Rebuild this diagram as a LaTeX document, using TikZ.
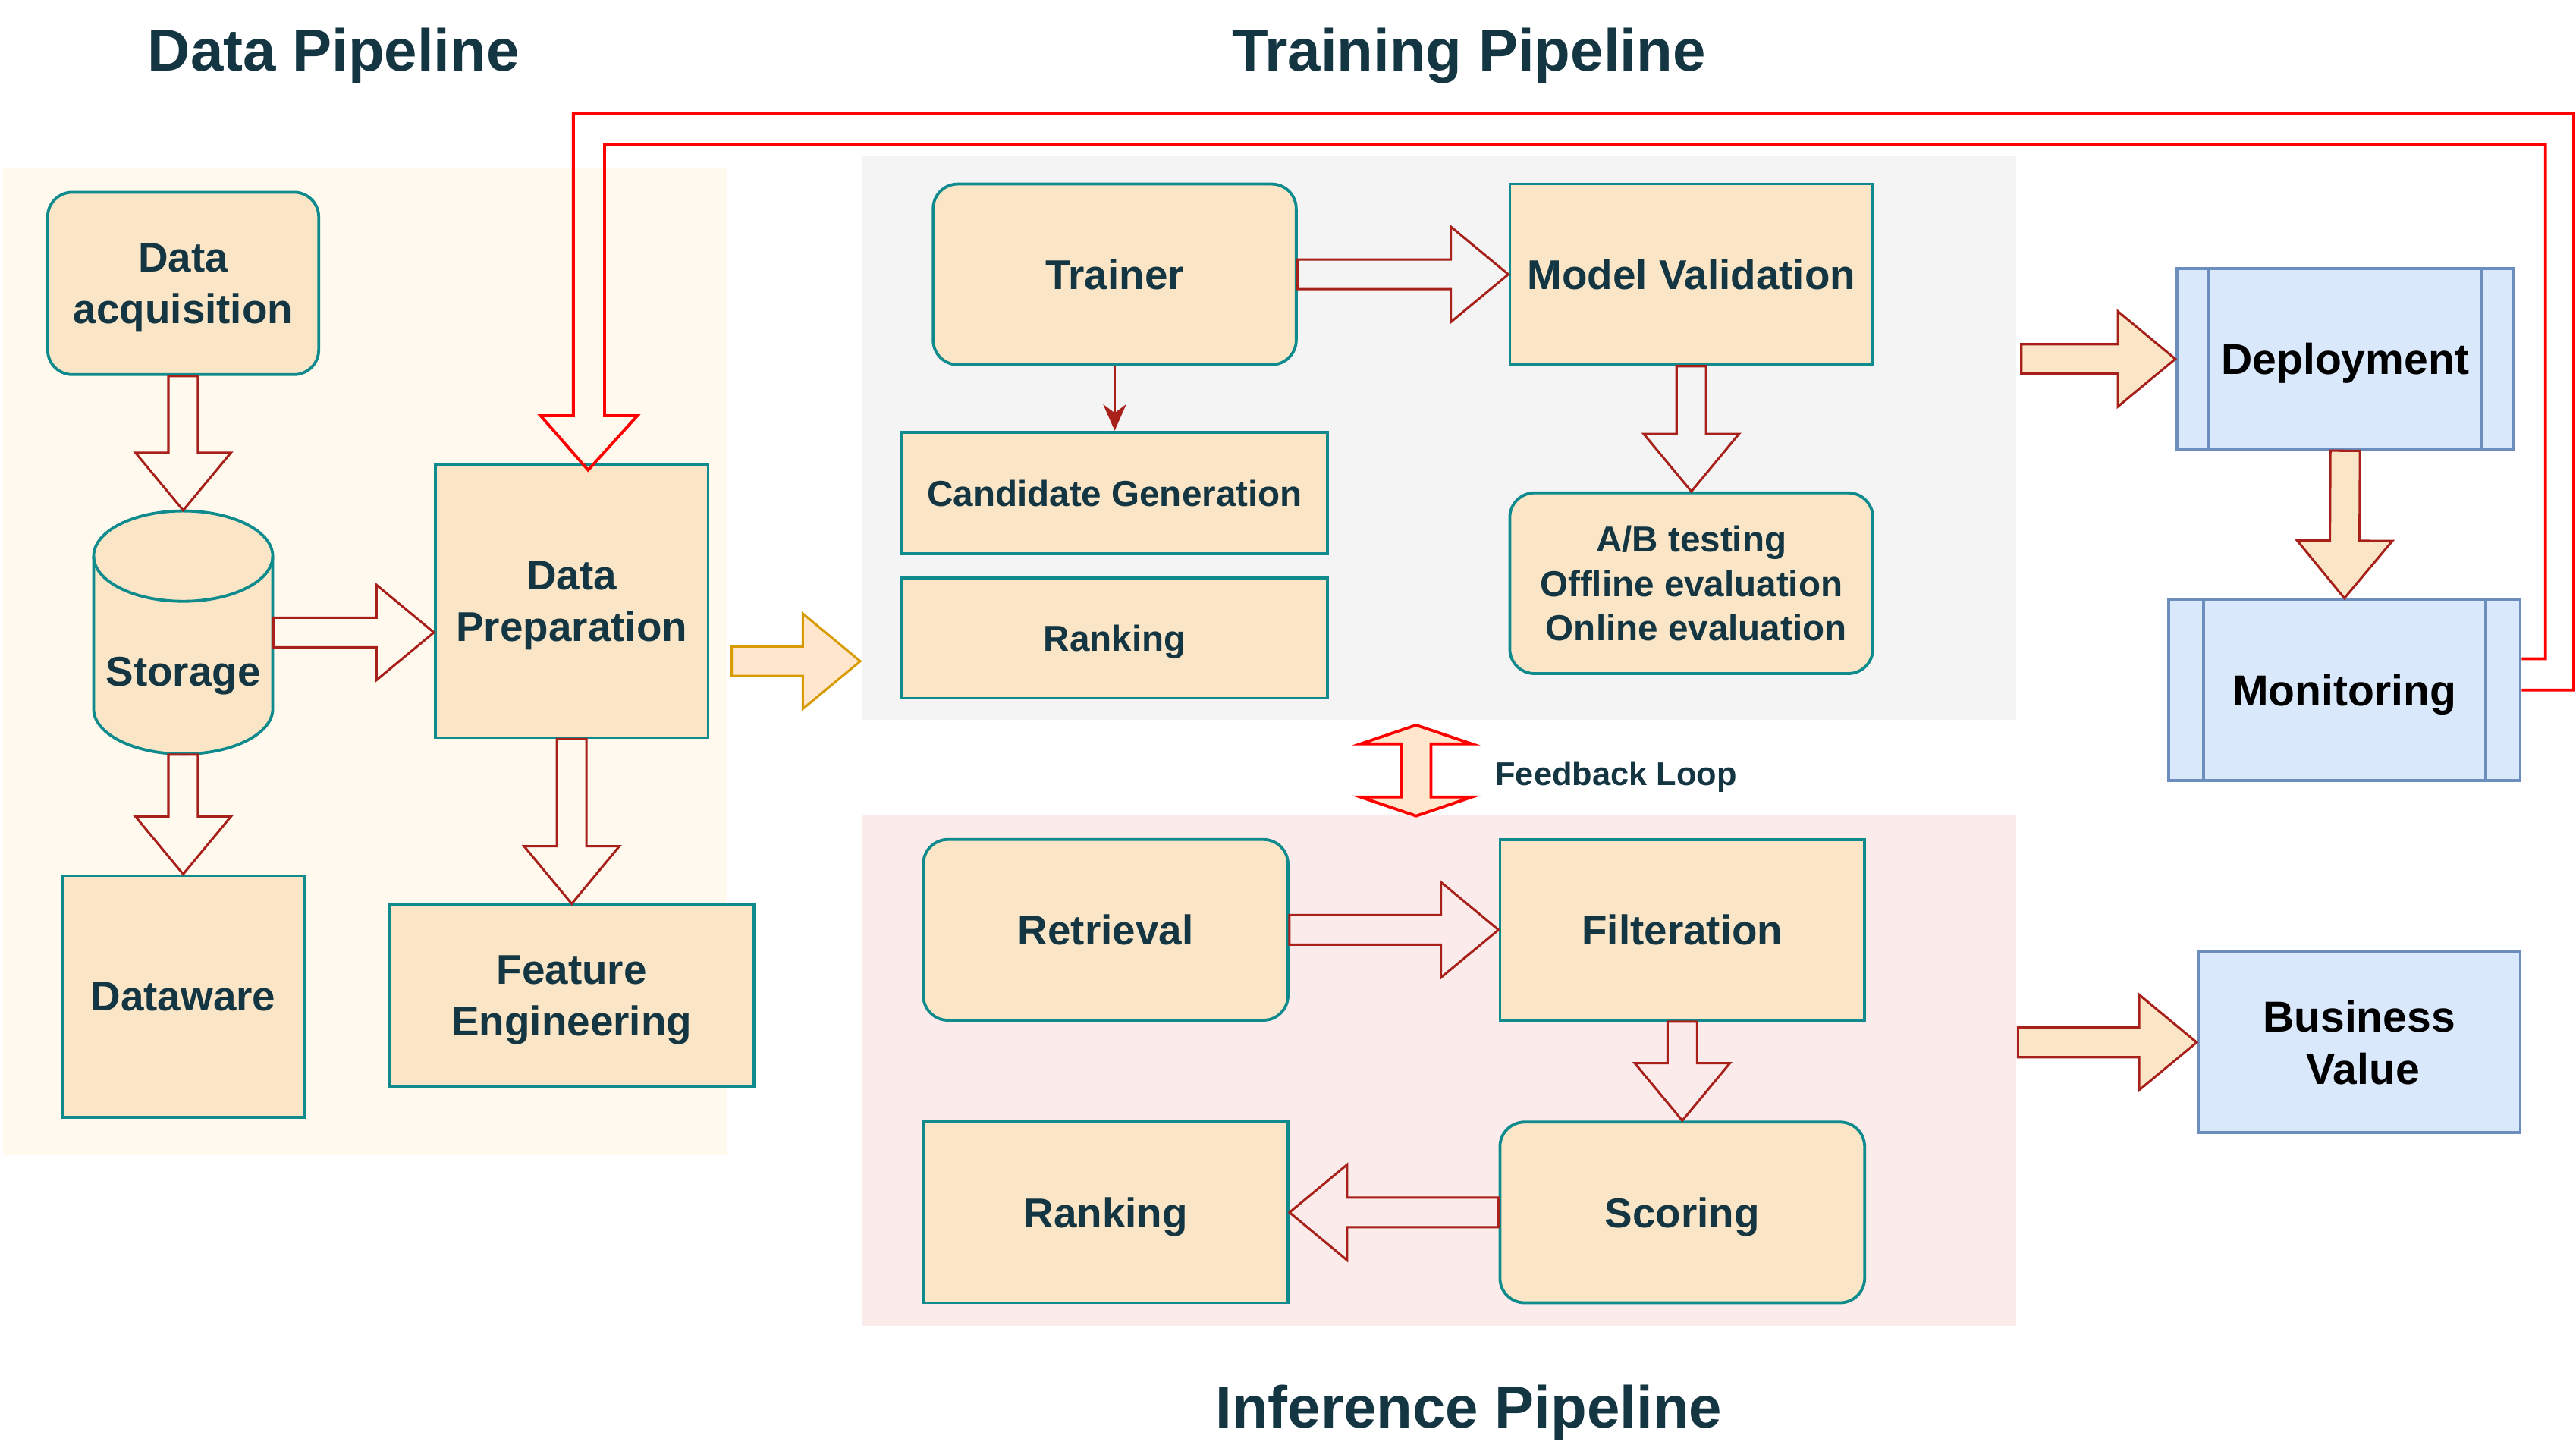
\documentclass[tikz,border=0pt]{standalone}
\usepackage{fontspec}
\setmainfont{Liberation Sans}
\usetikzlibrary{calc,arrows.meta}

\definecolor{boxfill}{HTML}{FAE5C7}
\definecolor{boxline}{HTML}{0F8B8D}
\definecolor{boxtext}{HTML}{143642}
\definecolor{arrowred}{HTML}{A8201A}
\definecolor{bluefill}{HTML}{DAE8FC}
\definecolor{blueline}{HTML}{6C8EBF}
\definecolor{peach}{HTML}{FFE6CC}
\definecolor{amber}{HTML}{D79B00}
\definecolor{loopred}{HTML}{FF0000}
\definecolor{databack}{HTML}{FFF9EE}
\definecolor{trainback}{HTML}{F4F4F4}
\definecolor{infback}{HTML}{FCEBEB}

\tikzset{
    stage/.style={draw=boxline,line width=1pt,fill=boxfill,text=boxtext,align=center,inner sep=0pt,
        text depth=0pt,font=\bfseries\fontsize{14.4}{18}\selectfont},
    roundstage/.style={stage,rounded corners=3mm},
    smallstage/.style={stage,font=\bfseries\fontsize{12.5}{15.3}\selectfont},
    bluestage/.style={draw=blueline,line width=1pt,fill=bluefill,text=black,align=center,inner sep=0pt,
        text depth=0pt,font=\bfseries\fontsize{15}{18}\selectfont},
    region/.style={draw=none,inner sep=0pt},
    title/.style={text=boxtext,text depth=0pt,font=\bfseries\fontsize{20.5}{24}\selectfont},
    flex/.style={draw=arrowred,line width=0.8pt,line join=miter},
    loopline/.style={draw=loopred,line width=1pt,line join=miter},
}

% hollow block arrow from #2 to #3
\newcommand\FlexArrow[3][]{%
    \coordinate (fa-base) at ($(#3)!7mm!(#2)$);
    \draw[flex,#1] ($(#2)!1.8mm!90:(#3)$) -- ($(fa-base)!1.8mm!90:(#3)$)
        -- ($(fa-base)!5.8mm!90:(#3)$) -- (#3) -- ($(fa-base)!5.8mm!-90:(#3)$)
        -- ($(fa-base)!1.8mm!-90:(#3)$) -- ($(#2)!1.8mm!-90:(#3)$) -- cycle;
}
% block arrow with a head at both ends
\newcommand\DoubleFlexArrow[3][]{%
    \coordinate (da-a) at ($(#2)!2.3mm!(#3)$);
    \coordinate (da-b) at ($(#3)!2.3mm!(#2)$);
    \draw[#1] (#2) -- ($(da-a)!6.8mm!90:(#3)$) -- ($(da-a)!1.8mm!90:(#3)$)
        -- ($(da-b)!1.8mm!-90:(#2)$) -- ($(da-b)!6.8mm!-90:(#2)$) -- (#3)
        -- ($(da-b)!6.8mm!90:(#2)$) -- ($(da-b)!1.8mm!90:(#2)$)
        -- ($(da-a)!1.8mm!-90:(#3)$) -- ($(da-a)!6.8mm!-90:(#3)$) -- cycle;
}

\begin{document}
\begin{tikzpicture}[x=0.2mm,y=-0.2mm]
    \useasboundingbox (0,0) rectangle (1568,881);

    % backgrounds
    \node[region,fill=databack,minimum width=88.2mm,minimum height=120.2mm] (databg) at (222.5,402.5) {};
    \node[region,fill=trainback,minimum width=140.4mm,minimum height=68.6mm] (trainbg) at (876,266.5) {};
    \node[region,fill=infback,minimum width=140.4mm,minimum height=62.2mm] (infbg) at (876,651.5) {};

    \node[title] (datatitle) at (203,30) {Data Pipeline};
    \node[title] (traintitle) at (894,30) {Training Pipeline};
    \node[title] (inftitle) at (894,856) {Inference Pipeline};

    % data pipeline
    \node[roundstage,minimum width=33mm,minimum height=22.2mm] (acq) at (111.5,172.5) {Data\\acquisition};
    \node[region,minimum width=21.8mm,minimum height=29.6mm] (storage) at (111.5,385) {};
    \draw[boxline,line width=1pt,fill=boxfill] (57,338.5) -- (57,431.5)
        arc[start angle=180,end angle=360,x radius=10.9mm,y radius=5.5mm] -- (166,338.5)
        arc[start angle=0,end angle=180,x radius=10.9mm,y radius=5.5mm] -- cycle;
    \draw[boxline,line width=1pt] (57,338.5) arc[start angle=180,end angle=360,x radius=10.9mm,y radius=5.5mm];
    \node[text=boxtext,text depth=0pt,font=\bfseries\fontsize{14.4}{18}\selectfont] (storagetext) at (111.5,409) {Storage};
    \node[stage,minimum width=29.4mm,minimum height=29.4mm] (dataware) at (111.5,606.5) {Dataware};
    \node[stage,minimum width=33.2mm,minimum height=33.2mm] (prep) at (348,366) {Data\\Preparation};
    \node[stage,minimum width=44.4mm,minimum height=22mm] (feat) at (348,606) {Feature\\Engineering};

    % training pipeline
    \node[roundstage,minimum width=44.2mm,minimum height=22mm] (trainer) at (678.5,167) {Trainer};
    \node[stage,minimum width=44.2mm,minimum height=22mm] (valid) at (1029.5,167) {Model Validation};
    \node[smallstage,minimum width=51.8mm,minimum height=14.8mm] (cand) at (678.5,300) {Candidate Generation};
    \node[smallstage,minimum width=51.8mm,minimum height=14.6mm] (trainrank) at (678.5,388.5) {Ranking};
    \node[smallstage,rounded corners=3mm,minimum width=44.2mm,minimum height=22mm] (abtest) at (1029.5,355)
        {A/B testing\\Offline evaluation\\\hspace*{1.2mm}Online evaluation};

    % inference pipeline
    \node[roundstage,minimum width=44.4mm,minimum height=22mm] (retrieval) at (673,566) {Retrieval};
    \node[stage,minimum width=44.4mm,minimum height=22mm] (filter) at (1024,566) {Filteration};
    \node[stage,minimum width=44.4mm,minimum height=22mm] (infrank) at (673,738) {Ranking};
    \node[roundstage,minimum width=44.4mm,minimum height=22mm] (scoring) at (1024,738) {Scoring};

    % serving
    \node[bluestage,minimum width=41mm,minimum height=22mm] (deploy) at (1427.5,218.5) {Deployment};
    \node[bluestage,minimum width=42.8mm,minimum height=22mm] (monitor) at (1427,420) {Monitoring};
    \node[bluestage,minimum width=39.2mm,minimum height=22mm] (business) at (1436,634.5) {Business\\\hspace*{1mm}Value};
    \foreach \n/\d in {deploy/20.5,monitor/22}{
        \draw[blueline,line width=1pt] ($(\n.north west)+(\d,0)$) -- ($(\n.south west)+(\d,0)$);
        \draw[blueline,line width=1pt] ($(\n.north east)+(-\d,0)$) -- ($(\n.south east)+(-\d,0)$);
    }

    % connectors
    \coordinate (prepin) at (storage.east -| prep.west);
    \coordinate (yellowfrom) at ($(databg.east)+(2,0)$);
    \coordinate (yellowto) at ($(trainbg.west |- databg.east)+(-1,0)$);
    \coordinate (deployfrom) at ($(trainbg.east |- deploy.west)+(3,0)$);
    \coordinate (businessfrom) at ($(infbg.east |- business.west)+(1,0)$);
    \coordinate (feedtop) at ($(trainbg.south)+(-14,3)$);
    \coordinate (feedbottom) at ($(infbg.north)+(-14,1)$);
    \coordinate (loopTip) at ($(prep.north)+(10,4)$);

    \FlexArrow{acq.south}{storage.north}
    \FlexArrow{storage.east}{prepin}
    \FlexArrow{storage.south}{dataware.north}
    \FlexArrow{prep.south}{feat.north}
    \FlexArrow[draw=amber,fill=peach]{yellowfrom}{yellowto}
    \FlexArrow{trainer.east}{valid.west}
    \FlexArrow{valid.south}{abtest.north}
    \FlexArrow{retrieval.east}{filter.west}
    \FlexArrow{filter.south}{scoring.north}
    \FlexArrow{scoring.west}{infrank.east}
    \FlexArrow[fill=boxfill]{deployfrom}{deploy.west}
    \FlexArrow[fill=boxfill]{deploy.south}{monitor.north}
    \FlexArrow[fill=boxfill]{businessfrom}{business.west}
    \draw[arrowred,line width=0.8pt,-{Stealth[length=3.2mm,width=2.8mm]}] (trainer.south) -- (cand.north);

    \DoubleFlexArrow[draw=loopred,fill=peach,line width=1pt,line join=miter]{feedtop}{feedbottom}
    \node[anchor=west,text=boxtext,text depth=0pt,font=\bfseries\fontsize{11.4}{14}\selectfont] (feedback) at (904,471) {Feedback Loop};

    % loop back from monitoring
    \draw[loopline] ($(monitor.east)+(0,-19)$) -- ++(14.5,0) |- (368,88) -- (368,253) -- (388,253)
        -- (loopTip) -- (329,253) -- (349,253) |- (1566.6,69) -- (1566.6,420) -- (monitor.east);
\end{tikzpicture}
\end{document}
